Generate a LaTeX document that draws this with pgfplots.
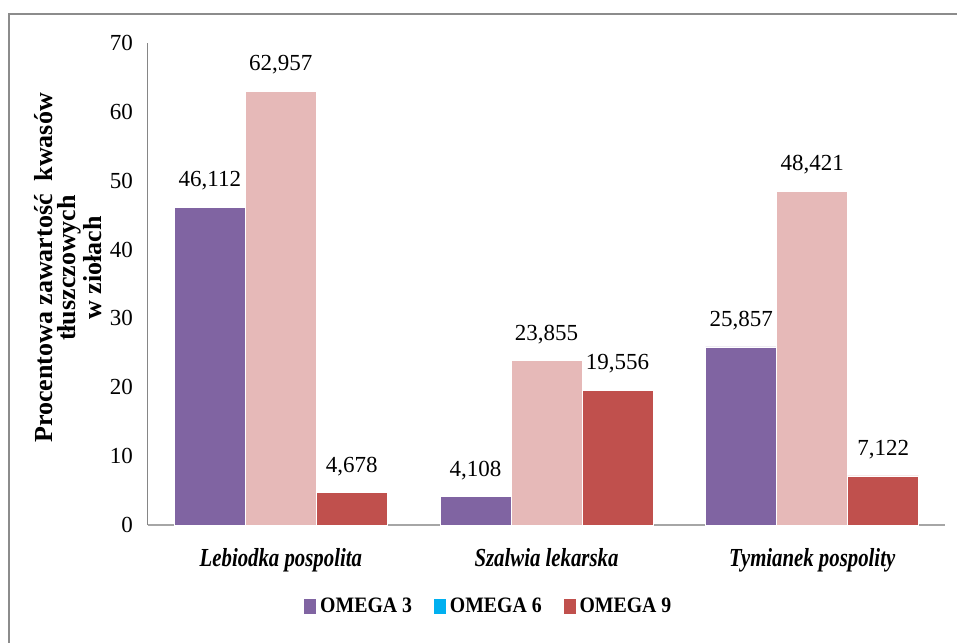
\documentclass[border=0pt]{standalone}
\usepackage{pgfplots}
\pgfplotsset{compat=1.18}
\usepackage{fontspec}
\setmainfont{Liberation Serif}
\definecolor{om3}{HTML}{8064A2}
\definecolor{om6}{HTML}{E6B9B8}
\definecolor{om6leg}{HTML}{00B0F0}
\definecolor{om9}{HTML}{C0504D}
\definecolor{axgray}{HTML}{868686}
\definecolor{xaxgray}{HTML}{A6A6A6}
\definecolor{framegray}{HTML}{8C8C8C}
\begin{document}
\begin{tikzpicture}
\begin{axis}[
  scale only axis, width=398.5pt, height=241pt,
  at={(0pt,0pt)}, anchor=south west,
  xmin=-0.5, xmax=2.5, ymin=0, ymax=70,
  ytick={0,10,...,70},
  xtick={0,1,2},
  xticklabels={{\scalebox{0.8}[1]{Lebiodka pospolita}},{\scalebox{0.8}[1]{Szalwia lekarska}},{\scalebox{0.8}[1]{Tymianek pospolity}}},
  axis x line*=bottom, axis y line*=left,
  y axis line style={axgray, line width=0.5pt},
  x axis line style={xaxgray, line width=1pt},
  major tick length=0pt,
  ybar=0pt, bar width=35.5pt,
  /pgf/number format/assume math mode=true,
  tick label style={font=\fontsize{11.5}{13}\selectfont},
  yticklabel style={xshift=-4pt},
  xticklabel style={yshift=-8pt, font=\fontsize{13}{14}\selectfont\bfseries\itshape},
  nodes near coords, point meta=explicit symbolic,
  every node near coord/.append style={font=\fontsize{11.5}{13}\selectfont, yshift=5pt, black},
  legend style={at={(0.429,-0.17)}, anchor=center, draw=none, fill=none,
    legend columns=3, font=\fontsize{11}{13}\selectfont\bfseries,
    /tikz/every even column/.append style={column sep=9pt},
    /tikz/every odd column/.append style={column sep=0pt}},
  legend cell align=left,
  clip=false,
]
\addplot[fill=om3, draw=white, line width=0.4pt,
  legend image code/.code={\fill[om3] (0pt,-3pt) rectangle (5.5pt,4pt);}]
  coordinates {(0,46.112) [46,112] (1,4.108) [4,108] (2,25.857) [25,857]};
\addlegendentry{\scalebox{0.9}[1]{OMEGA 3}}
\addplot[fill=om6, draw=white, line width=0.4pt,
  legend image code/.code={\fill[om6leg] (0pt,-3pt) rectangle (5.5pt,4pt);}]
  coordinates {(0,62.957) [62,957] (1,23.855) [23,855] (2,48.421) [48,421]};
\addlegendentry{\scalebox{0.9}[1]{OMEGA 6}}
\addplot[fill=om9, draw=white, line width=0.4pt,
  legend image code/.code={\fill[om9] (0pt,-3pt) rectangle (5.5pt,4pt);}]
  coordinates {(0,4.678) [4,678] (1,19.556) [19,556] (2,7.122) [7,122]};
\addlegendentry{\scalebox{0.9}[1]{OMEGA 9}}
\end{axis}
\node[rotate=90, align=center, font=\fontsize{13}{11.5}\selectfont\bfseries] at (-40pt,128.5pt)
  {Procentowa zawartość\ \ kwasów\\tłuszczowych\\w ziołach};
\draw[framegray, line width=1pt] (-69.5pt,-70pt) -- (-69.5pt,255.5pt) -- (420pt,255.5pt);
\pgfresetboundingbox
\useasboundingbox (-74pt,-58.5pt) rectangle (404.5pt,262.5pt);
\end{tikzpicture}
\end{document}
